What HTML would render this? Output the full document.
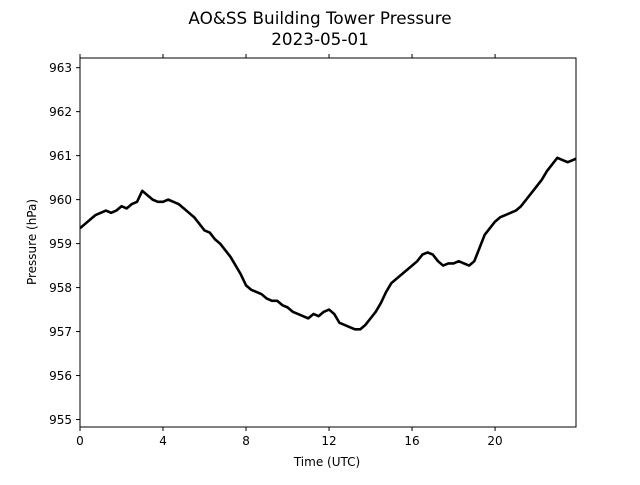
<!DOCTYPE html>
<html><head><meta charset="utf-8"><style>
body{margin:0;background:#fff;font-family:"Liberation Sans","DejaVu Sans",sans-serif;}
svg text{font-family:"DejaVu Sans","Liberation Sans",sans-serif;}
</style></head><body>
<svg id="chart" width="640" height="480" viewBox="0 0 640 480">
<rect width="640" height="480" fill="#fff"/>
<text x="320" y="24" text-anchor="middle" font-size="16.8">AO&amp;SS Building Tower Pressure</text>
<text x="320" y="45" text-anchor="middle" font-size="16.8">2023-05-01</text>
<g id="ticks"></g>
<clipPath id="clip"><rect x="80" y="58" width="496" height="369"/></clipPath>
<path id="line" fill="none" stroke="#000" stroke-width="2.6" stroke-linejoin="round" clip-path="url(#clip)"/>
<rect x="80" y="58" width="496" height="369" fill="none" stroke="#000" stroke-width="1"/>
<text x="327" y="466" text-anchor="middle" font-size="12">Time (UTC)</text>
<text transform="translate(36,242) rotate(-90)" text-anchor="middle" font-size="12">Pressure (hPa)</text>
</svg>
<script>
const xTicks=[0,4,8,12,16,20];
const yTicks=[955,956,957,958,959,960,961,962,963];
const hourStep=0.25;
const pressure=[959.35,959.45,959.55,959.65,959.7,959.75,959.7,959.75,959.85,959.8,959.9,959.95,960.2,960.1,960.0,959.95,959.95,960.0,959.95,959.9,959.8,959.7,959.6,959.45,959.3,959.25,959.1,959.0,958.85,958.7,958.5,958.3,958.05,957.95,957.9,957.85,957.75,957.7,957.7,957.6,957.55,957.45,957.4,957.35,957.3,957.4,957.35,957.45,957.5,957.4,957.2,957.15,957.1,957.05,957.05,957.15,957.3,957.45,957.65,957.9,958.1,958.2,958.3,958.4,958.5,958.6,958.75,958.8,958.75,958.6,958.5,958.55,958.55,958.6,958.55,958.5,958.6,958.9,959.2,959.35,959.5,959.6,959.65,959.7,959.75,959.85,960.0,960.15,960.3,960.45,960.65,960.8,960.95,960.9,960.85,960.9,960.95];
const X0=80,XW=496,xMax=23.9,Y0=58,YH=369,yMin=954.83,yMax=963.22;
const xs=h=>X0+h/xMax*XW;
const ys=p=>Y0+(yMax-p)/(yMax-yMin)*YH;
const ns="http://www.w3.org/2000/svg";
const g=document.getElementById('ticks');
function mk(tag,attrs){const e=document.createElementNS(ns,tag);for(const k in attrs)e.setAttribute(k,attrs[k]);g.appendChild(e);return e;}
xTicks.forEach(t=>{const x=xs(t);
 const a=mk('line',{x1:x,x2:x,y1:427,y2:431,stroke:'#000'});
 
 
 const b=mk('line',{x1:x,x2:x,y1:58,y2:54,stroke:'#000'});
 
 
 const l=mk('text',{x:x,y:445,'text-anchor':'middle','font-size':12});l.textContent=t;
 
 
});
yTicks.forEach(t=>{const y=ys(t);
 const a=mk('line',{x1:76,x2:80,y1:y,y2:y,stroke:'#000'});
 
 
 const l=mk('text',{x:72,y:y+4.5,'text-anchor':'end','font-size':12});l.textContent=t;
 
 
});
document.getElementById('line').setAttribute('d',pressure.map((p,i)=>(i?'L':'M')+xs(i*hourStep).toFixed(2)+','+ys(p).toFixed(2)).join(''));
</script>
</body></html>
